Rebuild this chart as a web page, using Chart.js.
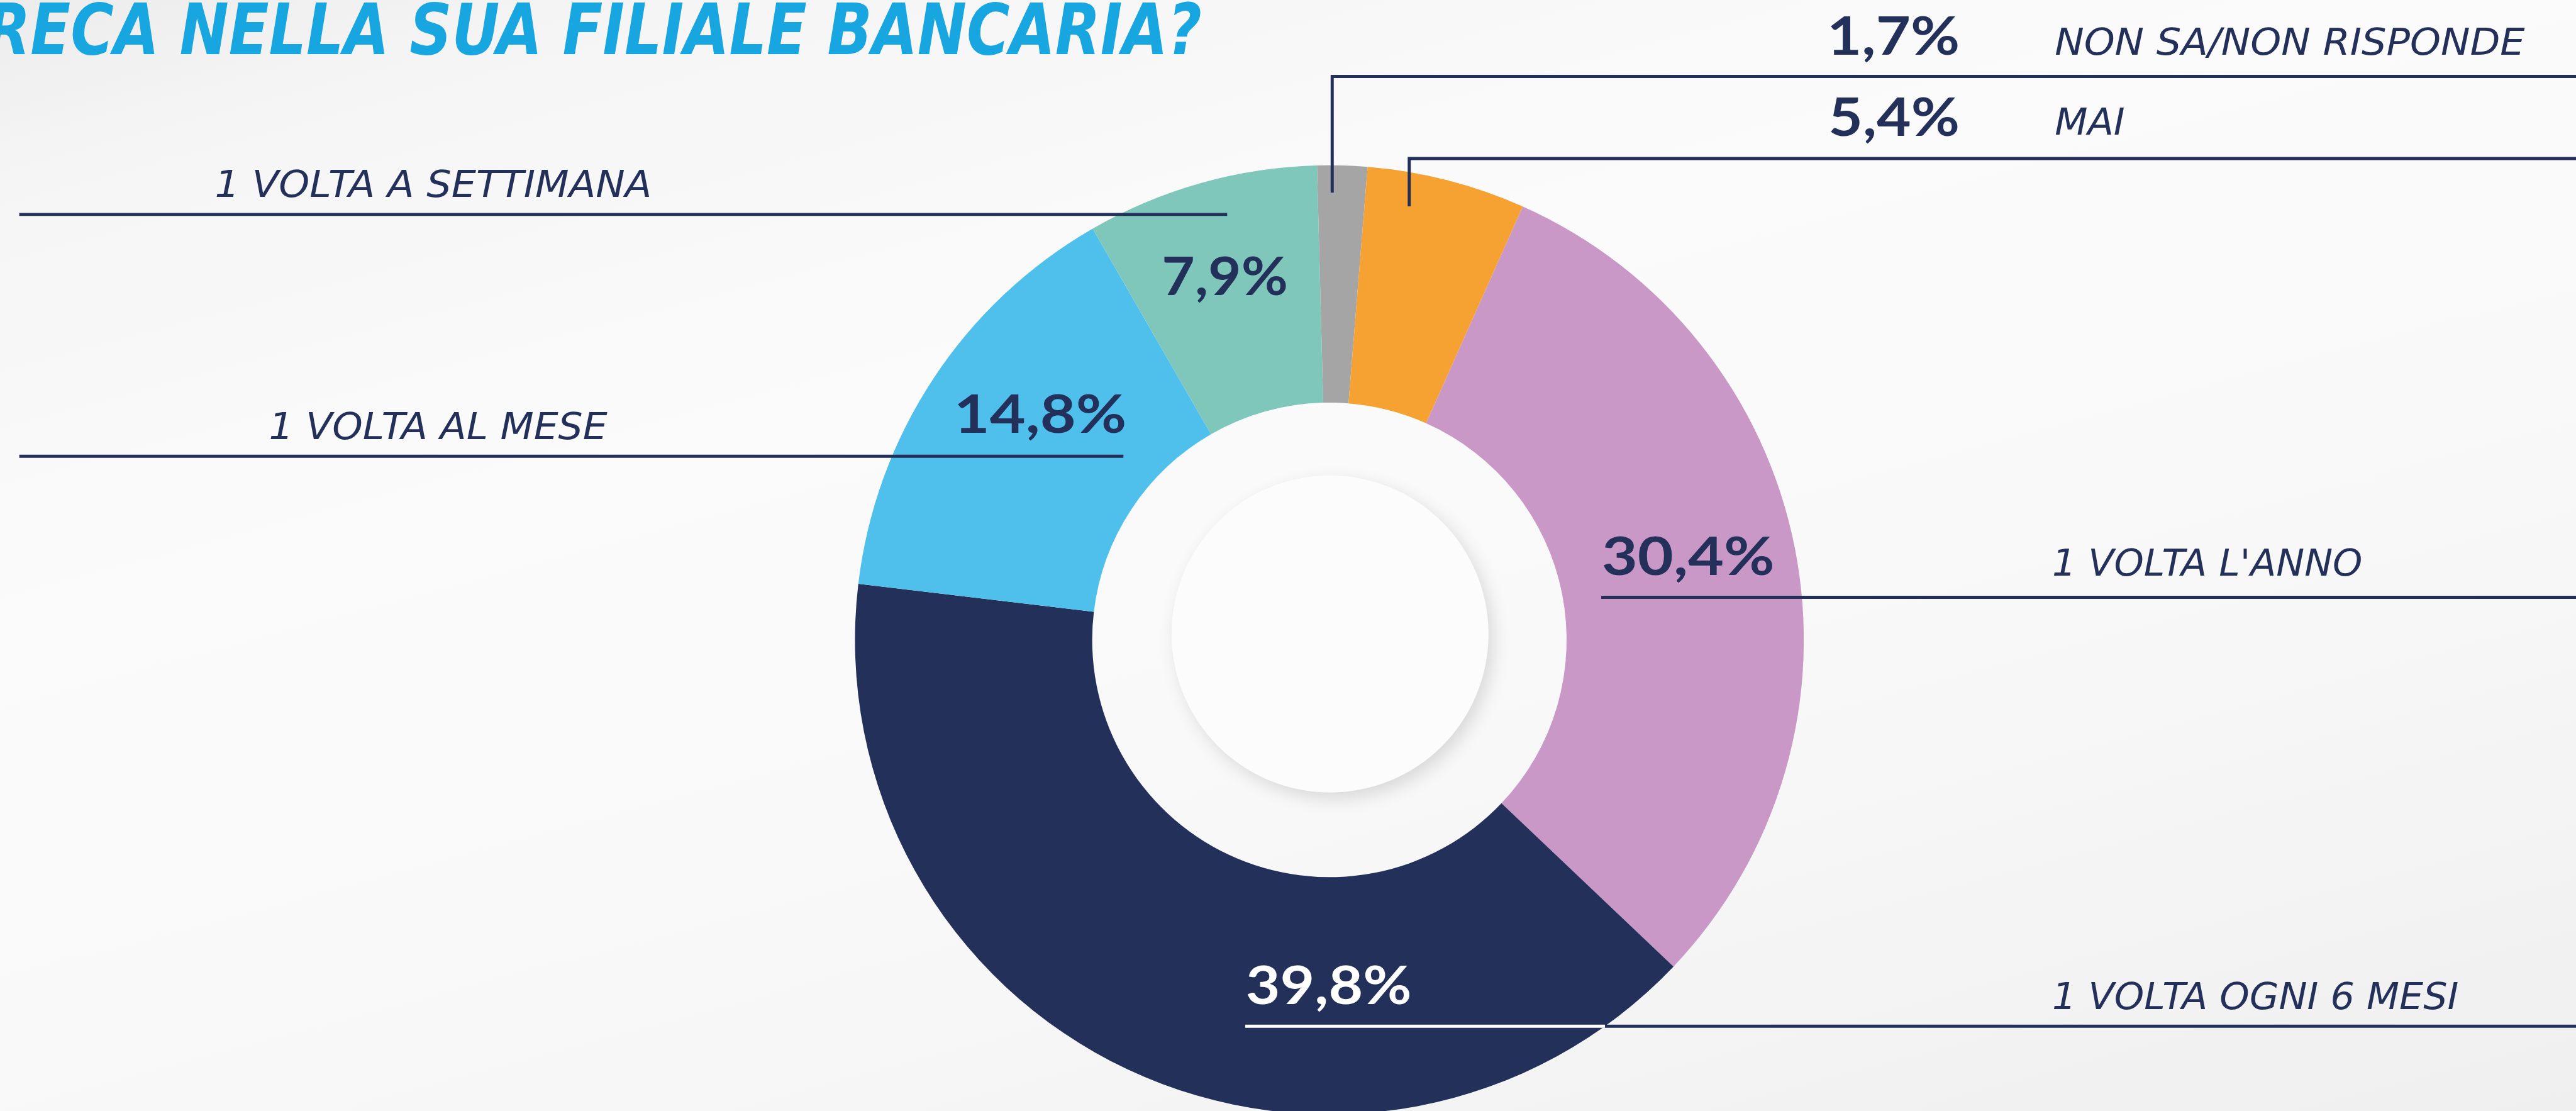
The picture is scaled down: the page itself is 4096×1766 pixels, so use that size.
<!DOCTYPE html>
<html>
<head>
<meta charset="utf-8">
<script src="https://cdn.jsdelivr.net/npm/chart.js@4"></script>
<style>
  html, body {
    margin: 0;
    padding: 0;
    width: 4096px;
    height: 1766px;
    overflow: hidden;
    background: linear-gradient(165deg, #ececec 0%, #f5f5f5 10%, #fbfbfb 35%, #f8f8f8 65%, #efefef 100%);
  }
  canvas { display: block; }
</style>
</head>
<body>
<canvas id="canvas" width="4096" height="1800"></canvas>
<script>
// data
var categories = ["NON SA/NON RISPONDE", "MAI", "1 VOLTA L'ANNO", "1 VOLTA OGNI 6 MESI", "1 VOLTA AL MESE", "1 VOLTA A SETTIMANA"];
var values = [1.7, 5.4, 30.4, 39.8, 14.8, 7.9];
var title = "RECA NELLA SUA FILIALE BANCARIA?";

// styles
var colors = ["#a5a5a5", "#f6a233", "#c998c6", "#23305a", "#4fc0ec", "#7fc7bb"];
var valueColors = ["#23305a", "#23305a", "#23305a", "#ffffff", "#23305a", "#23305a"];
var NAVY = "#23305a";
var k = 0.988; // reference px -> window px

// layout in reference pixels: [left, right, baseline]
var valuePos = [
  [2946, 3151, 88],
  [2946, 3151, 219],
  [2580, 2853, 925],
  [2007, 2269, 1615],
  [1541, 1810, 696],
  [1873, 2070, 475]
];
var namePos = [
  [3308, 4064, 88],
  [3308, 3419, 217],
  [3305, 3800, 926],
  [3305, 3956, 1623],
  [435, 978, 706],
  [348, 1045, 317]
];
var leaders = [
  [[2144, 310], [2144, 123], [4150, 123]],
  [[2268, 332], [2268, 255], [4150, 255]],
  [[2577, 961], [4150, 961]],
  [[2004, 1651], [4150, 1651]],
  [[31, 734], [1808, 734]],
  [[31, 345], [1975, 345]]
];

function fmt(v) {
  return v.toFixed(1).replace(".", ",") + "%";
}

function fitText(ctx, text, font, left, right, baseline, cap, color) {
  ctx.font = font(100);
  var capRatio = ctx.measureText("H").actualBoundingBoxAscent / 100;
  ctx.font = font(cap / capRatio);
  var m = ctx.measureText(text);
  var ink = m.actualBoundingBoxLeft + m.actualBoundingBoxRight;
  var sx = (right - left) / ink;
  ctx.save();
  ctx.translate(left + m.actualBoundingBoxLeft * sx, baseline);
  ctx.scale(sx, 1);
  ctx.fillStyle = color;
  ctx.textAlign = "left";
  ctx.textBaseline = "alphabetic";
  ctx.fillText(text, 0, 0);
  ctx.restore();
}

var valueFont = function (s) { return "700 " + s + "px Lato"; };
var nameFont = function (s) { return "italic 400 " + s + "px 'Liberation Sans Narrow', 'DejaVu Sans Condensed', sans-serif"; };
var titleFont = function (s) { return "italic 700 " + s + "px 'Liberation Sans Narrow', 'DejaVu Sans Condensed', sans-serif"; };

var decor = {
  id: "decor",
  afterDatasetsDraw: function (chart) {
    var ctx = chart.ctx;
    var arc = chart.getDatasetMeta(0).data[0];
    var cx = arc.x / k, cy = arc.y / k, R = arc.outerRadius / k;

    ctx.save();
    ctx.scale(k, k);

    // inner disc with soft shadow
    ctx.save();
    ctx.beginPath();
    ctx.arc(cx + 1, cy - 9.5, R * 0.334, 0, Math.PI * 2);
    ctx.fillStyle = "#fcfcfc";
    ctx.shadowColor = "rgba(0,0,0,0.13)";
    ctx.shadowBlur = 28;
    ctx.shadowOffsetX = 8;
    ctx.shadowOffsetY = 10;
    ctx.fill();
    ctx.restore();

    // leader lines
    ctx.strokeStyle = NAVY;
    ctx.lineWidth = 5;
    ctx.lineJoin = "miter";
    ctx.lineCap = "butt";
    leaders.forEach(function (pts) {
      ctx.beginPath();
      ctx.moveTo(pts[0][0], pts[0][1]);
      for (var i = 1; i < pts.length; i++) ctx.lineTo(pts[i][0], pts[i][1]);
      ctx.stroke();
    });

    // the part of the "6 mesi" line that lies on the navy slice is white
    var ly = leaders[3][0][1];
    var xs = cx + Math.sqrt(R * R - (ly - cy) * (ly - cy));
    ctx.strokeStyle = "#ffffff";
    ctx.beginPath();
    ctx.moveTo(leaders[3][0][0], ly);
    ctx.lineTo(xs, ly);
    ctx.stroke();

    // title
    fitText(ctx, title, titleFont, -22, 1932, 87, 83, "#17a6df");

    // labels
    for (var i = 0; i < values.length; i++) {
      var vp = valuePos[i], np = namePos[i];
      fitText(ctx, fmt(values[i]), valueFont, vp[0], vp[1], vp[2], 62, valueColors[i]);
      fitText(ctx, categories[i], nameFont, np[0], np[1], np[2], 43, NAVY);
    }

    ctx.restore();
  }
};

// donut placement: center (2139.5, 1029.5), radius 763.5 in reference px
var padLeft = (2139.5 - 763.5) * k;
var padTop = (1029.5 - 763.5) * k;
var side = 2 * 763.5 * k;

var ctx = document.getElementById("canvas").getContext("2d");
var myChart = new Chart(ctx, {
  type: "doughnut",
  data: {
    labels: categories,
    datasets: [
      {
        data: values,
        backgroundColor: colors,
        borderWidth: 0,
        hoverOffset: 0,
      },
    ],
  },
  options: {
    responsive: false,
    animation: false,
    events: [],
    cutout: "50%",
    rotation: -1.5,
    layout: {
      padding: {
        left: padLeft,
        top: padTop,
        right: 4096 - padLeft - side,
        bottom: 1800 - padTop - side,
      },
    },
    plugins: {
      legend: { display: false },
      tooltip: { enabled: false },
    },
  },
  plugins: [decor],
});
</script>
</body>
</html>
